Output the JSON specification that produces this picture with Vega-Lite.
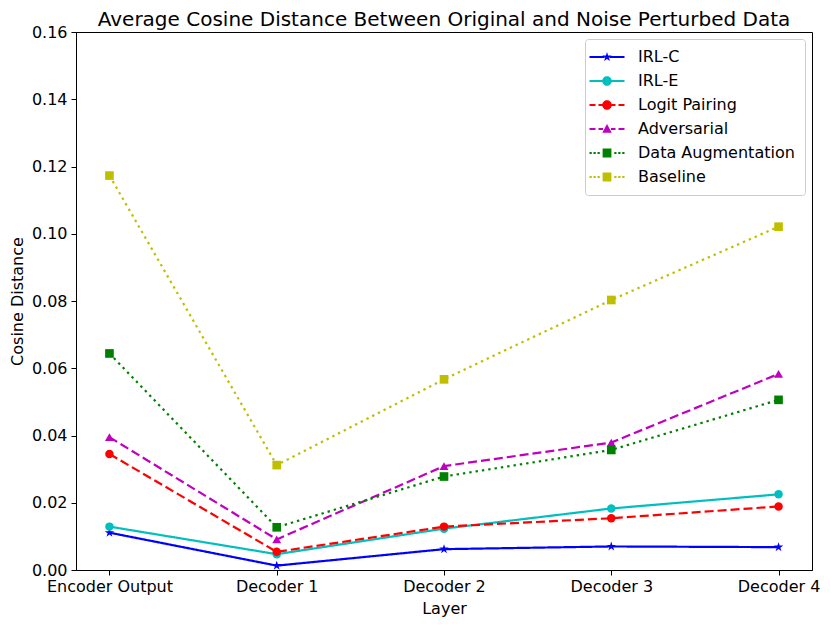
{
  "$schema": "https://vega.github.io/schema/vega-lite/v6.json",
  "width": 736,
  "height": 538,
  "autosize": {"type": "none"},
  "padding": {"left": 76, "top": 32, "right": 19, "bottom": 56},
  "title": {"text": "Average Cosine Distance Between Original and Noise Perturbed Data", "fontSize": 20, "font": "DejaVu Sans", "fontWeight": "normal", "color": "black", "offset": 0, "dy": 6},
  "config": {
    "view": {"stroke": "black", "strokeWidth": 1},
    "font": "DejaVu Sans",
    "axis": {"labelFont": "DejaVu Sans", "labelFontSize": 16, "titleFont": "DejaVu Sans", "titleFontSize": 16, "titleFontWeight": "normal", "labelColor": "black", "titleColor": "black", "tickColor": "black", "domainColor": "black", "tickSize": 5, "grid": false},
    "legend": {"labelFont": "DejaVu Sans", "labelFontSize": 16, "labelColor": "black"}
  },
  "data": {"values": [
    {"layer": "Encoder Output", "series": "IRL-C", "value": 0.0111},
    {"layer": "Decoder 1", "series": "IRL-C", "value": 0.0013},
    {"layer": "Decoder 2", "series": "IRL-C", "value": 0.0062},
    {"layer": "Decoder 3", "series": "IRL-C", "value": 0.0070},
    {"layer": "Decoder 4", "series": "IRL-C", "value": 0.0068},
    {"layer": "Encoder Output", "series": "IRL-E", "value": 0.0129},
    {"layer": "Decoder 1", "series": "IRL-E", "value": 0.0047},
    {"layer": "Decoder 2", "series": "IRL-E", "value": 0.0123},
    {"layer": "Decoder 3", "series": "IRL-E", "value": 0.0183},
    {"layer": "Decoder 4", "series": "IRL-E", "value": 0.0225},
    {"layer": "Encoder Output", "series": "Logit Pairing", "value": 0.0345},
    {"layer": "Decoder 1", "series": "Logit Pairing", "value": 0.0054},
    {"layer": "Decoder 2", "series": "Logit Pairing", "value": 0.0129},
    {"layer": "Decoder 3", "series": "Logit Pairing", "value": 0.0154},
    {"layer": "Decoder 4", "series": "Logit Pairing", "value": 0.0189},
    {"layer": "Encoder Output", "series": "Adversarial", "value": 0.0395},
    {"layer": "Decoder 1", "series": "Adversarial", "value": 0.0091},
    {"layer": "Decoder 2", "series": "Adversarial", "value": 0.0309},
    {"layer": "Decoder 3", "series": "Adversarial", "value": 0.0379},
    {"layer": "Decoder 4", "series": "Adversarial", "value": 0.0583},
    {"layer": "Encoder Output", "series": "Data Augmentation", "value": 0.0644},
    {"layer": "Decoder 1", "series": "Data Augmentation", "value": 0.0127},
    {"layer": "Decoder 2", "series": "Data Augmentation", "value": 0.0278},
    {"layer": "Decoder 3", "series": "Data Augmentation", "value": 0.0357},
    {"layer": "Decoder 4", "series": "Data Augmentation", "value": 0.0506},
    {"layer": "Encoder Output", "series": "Baseline", "value": 0.1173},
    {"layer": "Decoder 1", "series": "Baseline", "value": 0.0312},
    {"layer": "Decoder 2", "series": "Baseline", "value": 0.0567},
    {"layer": "Decoder 3", "series": "Baseline", "value": 0.0803},
    {"layer": "Decoder 4", "series": "Baseline", "value": 0.1021}
  ]},
  "encoding": {
    "x": {"field": "layer", "type": "ordinal", "title": "Layer",
      "sort": ["Encoder Output", "Decoder 1", "Decoder 2", "Decoder 3", "Decoder 4"],
      "scale": {"type": "point", "padding": 0.2},
      "axis": {"labelAngle": 0, "labelPadding": 3, "titlePadding": 6}},
    "y": {"field": "value", "type": "quantitative", "title": "Cosine Distance",
      "scale": {"domain": [0, 0.16], "nice": false},
      "axis": {"values": [0, 0.02, 0.04, 0.06, 0.08, 0.1, 0.12, 0.14, 0.16], "format": ".2f", "labelPadding": 4, "titlePadding": 6}},
    "color": {"field": "series", "type": "nominal", "title": null,
      "scale": {"domain": ["IRL-C", "IRL-E", "Logit Pairing", "Adversarial", "Data Augmentation", "Baseline"],
        "range": ["#0000ff", "#00bfbf", "#ff0000", "#bf00bf", "#008000", "#bfbf00"]}}
  },
  "layer": [
    {
      "mark": {"type": "line", "strokeWidth": 2.2, "strokeCap": "butt"},
      "encoding": {
        "strokeDash": {"field": "series", "type": "nominal", "title": null,
          "scale": {"domain": ["IRL-C", "IRL-E", "Logit Pairing", "Adversarial", "Data Augmentation", "Baseline"],
            "range": [[1, 0], [1, 0], [9, 4], [9, 4], [2.4, 4], [2.4, 4]]}}
      }
    },
    {
      "transform": [{"filter": "datum.series == 'IRL-C'"}],
      "mark": {"type": "point", "filled": true, "opacity": 1, "size": 100,
        "shape": "M0,-1L0.223,-0.307L0.951,-0.309L0.361,0.117L0.588,0.809L0,0.38L-0.588,0.809L-0.361,0.117L-0.951,-0.309L-0.223,-0.307Z"}
    },
    {
      "transform": [{"filter": "datum.series == 'IRL-E' || datum.series == 'Logit Pairing'"}],
      "mark": {"type": "point", "filled": true, "opacity": 1, "size": 72, "shape": "circle"}
    },
    {
      "transform": [{"filter": "datum.series == 'Adversarial'"}],
      "mark": {"type": "point", "filled": true, "opacity": 1, "size": 80, "shape": "triangle-up"}
    },
    {
      "transform": [{"filter": "datum.series == 'Data Augmentation' || datum.series == 'Baseline'"}],
      "mark": {"type": "point", "filled": true, "opacity": 1, "size": 75, "shape": "square"}
    },
    {
      "transform": [{"filter": "false"}],
      "mark": {"type": "point", "filled": true, "opacity": 1},
      "encoding": {
        "shape": {"field": "series", "type": "nominal", "title": null,
          "scale": {"domain": ["IRL-C", "IRL-E", "Logit Pairing", "Adversarial", "Data Augmentation", "Baseline"],
            "range": [
              "M-3.5,-0.22H-0.5V0.22H-3.5ZM0.5,-0.22H3.5V0.22H0.5ZM0,-1L0.223,-0.307L0.951,-0.309L0.361,0.117L0.588,0.809L0,0.38L-0.588,0.809L-0.361,0.117L-0.951,-0.309L-0.223,-0.307Z",
              "M-3.5,-0.22H-0.8V0.22H-3.5ZM0.8,-0.22H3.5V0.22H0.8ZM0.95,0A0.95,0.95 0 1,1 -0.95,0A0.95,0.95 0 1,1 0.95,0Z",
              "M-3.5,-0.22H-2.3V0.22H-3.5ZM-1.7,-0.22H-0.8V0.22H-1.7ZM0.8,-0.22H1.7V0.22H0.8ZM2.3,-0.22H3.5V0.22H2.3ZM0.95,0A0.95,0.95 0 1,1 -0.95,0A0.95,0.95 0 1,1 0.95,0Z",
              "M-3.5,-0.22H-2.3V0.22H-3.5ZM-1.7,-0.22H-0.8V0.22H-1.7ZM0.8,-0.22H1.7V0.22H0.8ZM2.3,-0.22H3.5V0.22H2.3ZM0,-1L0.95,0.75L-0.95,0.75Z",
              "M-3.5,-0.22H-3.05V0.22H-3.5ZM-2.7,-0.22H-2.25V0.22H-2.7ZM-1.9,-0.22H-1.45V0.22H-1.9ZM1.45,-0.22H1.9V0.22H1.45ZM2.25,-0.22H2.7V0.22H2.25ZM3.05,-0.22H3.5V0.22H3.05ZM-0.88,-0.88H0.88V0.88H-0.88Z",
              "M-3.5,-0.22H-3.05V0.22H-3.5ZM-2.7,-0.22H-2.25V0.22H-2.7ZM-1.9,-0.22H-1.45V0.22H-1.9ZM1.45,-0.22H1.9V0.22H1.45ZM2.25,-0.22H2.7V0.22H2.25ZM3.05,-0.22H3.5V0.22H3.05ZM-0.88,-0.88H0.88V0.88H-0.88Z"
            ]},
          "legend": {"orient": "top-right", "offset": 7, "padding": 10, "symbolOffset": 4, "labelOffset": 23, "rowPadding": 8,
            "symbolSize": 100, "symbolStrokeWidth": 0, "fillColor": "white", "strokeColor": "#cccccc", "cornerRadius": 3}}
      }
    }
  ]
}
